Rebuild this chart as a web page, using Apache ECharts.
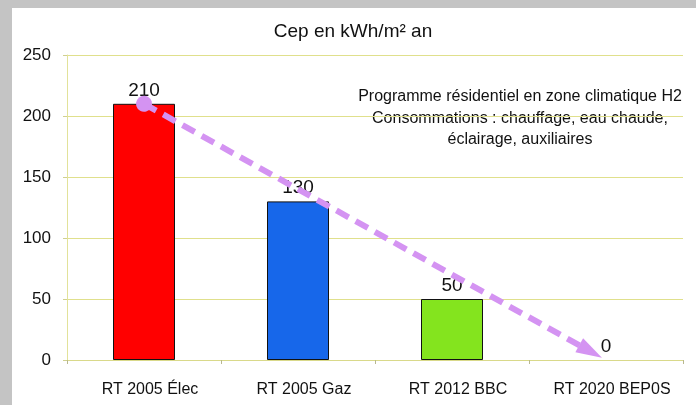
<!DOCTYPE html>
<html><head><meta charset="utf-8">
<script src="https://cdn.jsdelivr.net/npm/echarts@6/dist/echarts.min.js"></script>
<style>html,body{margin:0;padding:0;background:#c4c4c4}#c{width:696px;height:405px}</style>
</head><body><div id="c"></div>
<script>
const categories = ['RT 2005 Élec', 'RT 2005 Gaz', 'RT 2012 BBC', 'RT 2020 BEP0S'];
const values = [210, 130, 50, 0];
const barColors = ['#ff0000', '#1767ea', '#84e41e', '#84e41e'];
const yTicks = [0, 50, 100, 150, 200, 250];
const titleText = 'Cep en kWh/m² an';
const noteLines = ['Programme résidentiel en zone climatique H2', 'Consommations : chauffage, eau chaude,', 'éclairage, auxiliaires'];
const arrowStart = [0, 210];
const arrowEnd = [2.9, 7];

const chart = echarts.init(document.getElementById('c'), null, {renderer: 'canvas'});
const font = 'Liberation Sans, Arial, sans-serif';
chart.setOption({
  backgroundColor: '#c4c4c4',
  animation: false,
  textStyle: {fontFamily: font},
  graphic: [
    {type: 'rect', left: 12, top: 8, shape: {width: 684, height: 397}, style: {fill: '#ffffff'}, z: -10},
    {type: 'text', x: 353, y: 32, style: {text: titleText, font: '19px ' + font, fill: '#111', align: 'center', verticalAlign: 'middle'}},
    {type: 'text', x: 520, y: 86, style: {text: noteLines.join('\n'), font: '16px ' + font, fill: '#111', align: 'center', verticalAlign: 'top', lineHeight: 21.5}}
  ],
  grid: {left: 67, right: 13, top: 55, bottom: 45},
  xAxis: [{
    type: 'category', data: categories,
    axisLine: {lineStyle: {color: '#d9d98a', width: 1}},
    axisTick: {show: true, lineStyle: {color: '#b8b890'}, length: 4},
    axisLabel: {color: '#111', fontSize: 16, margin: 22, padding: [0, 0, 0, 12], fontFamily: font}
  }, {
    type: 'value', min: -0.5, max: 3.5, show: false
  }],
  yAxis: {
    type: 'value', min: yTicks[0], max: yTicks[yTicks.length - 1], interval: 50,
    axisLine: {show: true, onZero: false, lineStyle: {color: '#e2e29a'}},
    axisTick: {show: true, length: 4, lineStyle: {color: '#d0d090'}},
    splitLine: {lineStyle: {color: '#e0e08c', width: 1}},
    axisLabel: {color: '#111', fontSize: 17, margin: 16, fontFamily: font}
  },
  series: [{
    type: 'bar', data: values.map((v, i) => ({value: v, itemStyle: {color: barColors[i], borderWidth: v === 0 ? 0 : 1}})),
    barWidth: 62,
    itemStyle: {borderColor: '#111', borderWidth: 1},
    label: {show: true, position: 'top', color: '#111', fontSize: 19, distance: 4, fontFamily: font}
  }, {
    type: 'line', xAxisIndex: 1, data: [arrowStart, arrowEnd], symbol: 'none',
    lineStyle: {width: 0, opacity: 0}, silent: true, z: 5,
    markLine: {
      silent: true, symbol: ['circle', 'triangle'], symbolSize: [16, 26],
      label: {show: false},
      lineStyle: {color: '#d493f2', width: 6, type: [14, 8], opacity: 1},
      data: [[{coord: arrowStart}, {coord: arrowEnd}]]
    }
  }]
});
</script></body></html>
